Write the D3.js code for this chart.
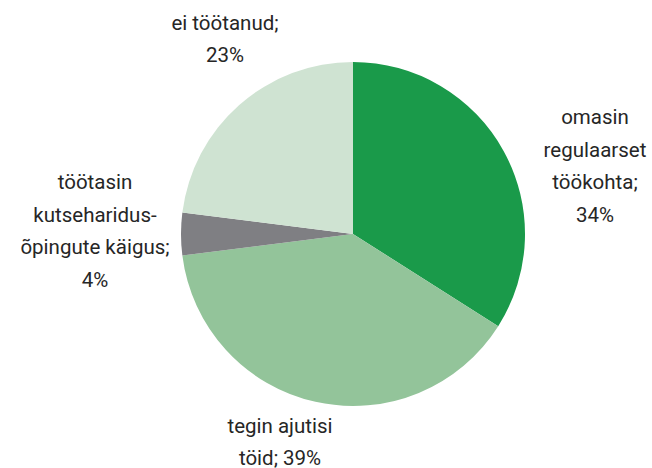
<html>
<head>
<meta charset="utf-8">
<style>
  body { margin: 0; background: #fff; }
  .label text { font-family: Roboto, "Noto Sans", sans-serif; font-size: 20.5px; fill: #262626; text-anchor: middle; }
</style>
</head>
<body>
<script src="https://cdn.jsdelivr.net/npm/d3@7"></script>
<script>
// slices, clockwise from 12 o'clock
var categories = ["omasin regulaarset töökohta", "tegin ajutisi töid", "töötasin kutseharidusõpingute käigus", "ei töötanud"];
var values = [34, 39, 4, 23];
var colors = ["#1a9a4a", "#93c49a", "#7f7f83", "#cfe3d2"];
var labelLines = [
  ["omasin", "regulaarset", "töökohta;", "34%"],
  ["tegin ajutisi", "töid; 39%"],
  ["töötasin", "kutseharidus-", "õpingute käigus;", "4%"],
  ["ei töötanud;", "23%"]
];
// label block centres relative to pie centre
var labelPos = [[242, -68], [-73, 208], [-258, -3], [-128, -195]];

var width = 652, height = 468,
    cx = 353, cy = 234, radius = 172, lineH = 32.5;

var svg = d3.select("body").append("svg")
    .attr("width", width)
    .attr("height", height);

var g = svg.append("g")
    .attr("transform", "translate(" + cx + "," + cy + ")");

var pie = d3.pie().sort(null).value(function(d) { return d; });
var arc = d3.arc().innerRadius(0).outerRadius(radius);

var arcs = pie(values);

g.selectAll("path")
  .data(arcs)
  .enter().append("path")
    .attr("d", arc)
    .attr("fill", function(d, i) { return colors[i]; });

// labels
var labels = g.append("g").attr("class", "label");
arcs.forEach(function(d, i) {
  var lines = labelLines[i];
  var top = labelPos[i][1] - (lines.length - 1) * lineH / 2;
  var t = labels.append("text");
  lines.forEach(function(l, j) {
    t.append("tspan")
      .attr("x", labelPos[i][0])
      .attr("y", top + j * lineH)
      .attr("dy", "0.35em")
      .text(l);
  });
});
</script>
</body>
</html>
